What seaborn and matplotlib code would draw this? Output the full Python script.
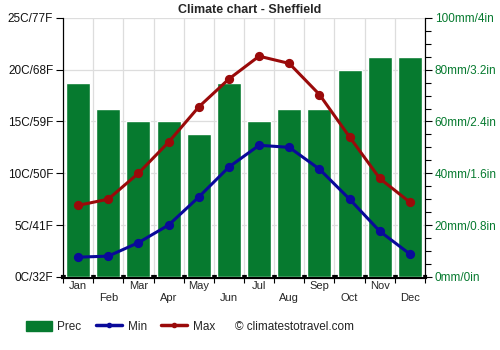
import matplotlib
matplotlib.use("Agg")
import matplotlib.pyplot as plt
import seaborn as sns
import numpy as np
import pandas as pd
from matplotlib.patches import Patch
from matplotlib.lines import Line2D

months = ["Jan", "Feb", "Mar", "Apr", "May", "Jun", "Jul", "Aug", "Sep", "Oct", "Nov", "Dec"]
prec_mm = [75, 65, 60, 60, 55, 75, 60, 65, 65, 80, 85, 85]
temp_min = [1.9, 2.0, 3.3, 5.0, 7.7, 10.6, 12.7, 12.5, 10.4, 7.5, 4.4, 2.2]
temp_max = [6.9, 7.5, 10.0, 13.0, 16.4, 19.1, 21.3, 20.6, 17.6, 13.5, 9.5, 7.2]
temp_labels = ["0C/32F", "5C/41F", "10C/50F", "15C/59F", "20C/68F", "25C/77F"]
prec_labels = ["0mm/0in", "20mm/0.8in", "40mm/1.6in", "60mm/2.4in", "80mm/3.2in", "100mm/4in"]

GREEN = "#067a2f"
BLUE = "#0a0a9a"
RED = "#9a0a0a"

sns.set_style("white")
plt.rcParams['font.family'] = ['Liberation Sans', 'DejaVu Sans']

df = pd.DataFrame({"month": months, "prec": prec_mm, "tmin": temp_min, "tmax": temp_max})

fig = plt.figure(figsize=(5, 3.5), dpi=100)
ax = fig.add_axes([0.126, 0.209, 0.724, 0.74])
ax2 = ax.twinx()

sns.barplot(data=df, x="month", y="prec", color=GREEN, saturation=1, width=0.8, ax=ax, zorder=3)
ax.set_ylim(0, 100)
ax.set_xlim(-0.5, 11.5)
ax.yaxis.tick_right()
ax.set_yticks(np.arange(0, 101, 20))
ax.set_yticklabels(prec_labels, color=GREEN, fontsize=8.5)
ax.set_yticks(np.arange(0, 101, 5), minor=True)
ax.tick_params(axis="y", which="both", direction="out", length=4, width=0.8, color="black", pad=2,
               right=True, left=False, labelright=True, labelleft=False)
ax.tick_params(axis="y", which="major", length=5)
ax.set_ylabel("")
ax.set_xlabel("")

# x ticks: boundaries (major), labels at centers (minor)
ax.set_xticks(np.arange(-0.5, 12, 1))
ax.set_xticklabels([])
ax.set_xticks(np.arange(12), minor=True)
ax.set_xticklabels([m if i % 2 == 0 else "\n" + m for i, m in enumerate(months)], minor=True, fontsize=8)
ax.tick_params(axis="x", which="major", direction="out", length=4, width=0.8, bottom=True, color="black")
ax.tick_params(axis="x", which="minor", length=0, pad=3)

ax.grid(True, which="major", axis="both", color="#dddddd", linewidth=0.9, zorder=0)
ax.set_axisbelow(True)
ax.spines["top"].set_visible(False)
ax.spines["left"].set_color("black")
ax.spines["right"].set_color("black")
ax.spines["bottom"].set_color("black")
ax.spines["bottom"].set_linewidth(3)
ax.spines["bottom"].set_zorder(2)

sns.pointplot(data=df, x="month", y="tmin", color=BLUE, markers="o", markersize=5, linewidth=2.2, ax=ax2, zorder=5)
sns.pointplot(data=df, x="month", y="tmax", color=RED, markers="o", markersize=5, linewidth=2.2, ax=ax2, zorder=5)
ax2.set_ylim(0, 25)
ax2.set_xlim(-0.5, 11.5)
ax2.yaxis.tick_left()
ax2.set_yticks(np.arange(0, 26, 5))
ax2.set_yticklabels(temp_labels, fontsize=8.5, color="#111111")
ax2.tick_params(axis="y", direction="out", length=5, width=0.8, color="black",
                left=True, right=False, labelleft=True, labelright=False, pad=2)
ax2.set_ylabel("")
ax2.set_xlabel("")
ax2.spines["top"].set_visible(False)
ax2.spines["left"].set_color("black")
ax2.spines["right"].set_color("black")
ax2.spines["bottom"].set_visible(False)
ax2.grid(False)

fig.text(0.5, 0.955, "Climate chart - Sheffield", ha="center", va="bottom", fontsize=9, fontweight="bold")

handles = [
    Patch(facecolor=GREEN, edgecolor=GREEN),
    Line2D([0], [0], color=BLUE, lw=2.5, marker="o", markersize=3),
    Line2D([0], [0], color=RED, lw=2.5, marker="o", markersize=3),
]
fig.legend(handles, ["Prec", "Min", "Max"], loc="center left", bbox_to_anchor=(0.03, 0.066),
           ncol=3, frameon=False, fontsize=8.5, handlelength=2.2, handleheight=0.9, columnspacing=1.2, handletextpad=0.5)
fig.text(0.47, 0.066, "© climatestotravel.com", ha="left", va="center", fontsize=8.5, color="#222222")

fig.savefig("out.png", dpi=100)
